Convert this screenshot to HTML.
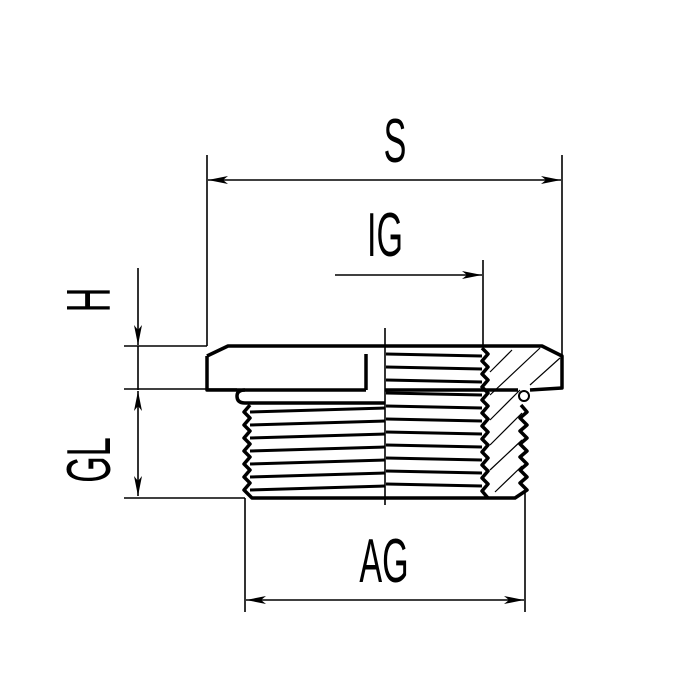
<!DOCTYPE html>
<html><head><meta charset="utf-8"><style>body{margin:0;background:#fff}svg{display:block}</style></head>
<body>
<svg width="700" height="700" viewBox="0 0 700 700" xmlns="http://www.w3.org/2000/svg">
<defs>
<marker id="a" viewBox="0 0 20 8" refX="20" refY="4" markerWidth="20" markerHeight="8" markerUnits="userSpaceOnUse" orient="auto-start-reverse"><path d="M0,0 L20,4 L0,8 L5,4 Z" fill="#000"/></marker>
</defs>
<g stroke="#000" stroke-width="1.6" fill="none">
<line x1="207" y1="155" x2="207" y2="346"/>
<line x1="562" y1="155" x2="562" y2="356"/>
<line x1="208" y1="180" x2="561" y2="180" marker-start="url(#a)" marker-end="url(#a)"/>
<line x1="483" y1="260" x2="483" y2="346"/>
<line x1="335" y1="275" x2="482" y2="275" marker-end="url(#a)"/>
<line x1="138" y1="268" x2="138" y2="345" marker-end="url(#a)"/>
<line x1="138" y1="346" x2="138" y2="390"/>
<line x1="138" y1="391" x2="138" y2="496" marker-start="url(#a)" marker-end="url(#a)"/>
<line x1="124" y1="346" x2="207" y2="346"/>
<line x1="124" y1="389" x2="237" y2="389"/>
<line x1="124" y1="498" x2="245" y2="498"/>
<line x1="245" y1="498" x2="245" y2="612"/>
<line x1="525" y1="490" x2="525" y2="612"/>
<line x1="246" y1="600" x2="524" y2="600" marker-start="url(#a)" marker-end="url(#a)"/>
<line x1="385" y1="328" x2="385" y2="505"/>
</g>
<g stroke="#000" stroke-width="3.5" fill="none" stroke-linejoin="round">
<path d="M207,356 L228,346 L542,346 L562,356 L562,388 L530,390"/>
<path d="M207,356 L207,390 L366,390"/>
<path d="M366,354 L366,390"/>
<path d="M385,390 L518,390"/>
<path d="M245,390 Q237,390 237,396 Q237,403 245,403 L385,403"/>
<path d="M250,405 L244,412 L250,418 L244,425 L250,431 L244,438 L250,444 L244,451 L250,457 L244,464 L250,470 L244,477 L250,483 L244,490 L252,498 L515,498 L527,490 L520,483 L527,477 L520,470 L527,464 L520,457 L527,451 L520,444 L527,438 L520,431 L527,425 L520,418 L527,412 L521,405"/>
<path d="M482,348 L488,354 L482,361 L488,367 L482,374 L488,380 L482,387 L488,393 L482,400 L488,406 L482,413 L488,419 L482,426 L488,432 L482,439 L488,445 L482,452 L488,458 L482,465 L488,471 L482,478 L488,484 L482,491 L488,498"/>
<circle cx="524" cy="396" r="5" stroke-width="2"/>
</g>
<g stroke="#000" stroke-width="3">
<line x1="250" y1="412" x2="385" y2="408"/><line x1="250" y1="425" x2="385" y2="421"/>
<line x1="250" y1="438" x2="385" y2="434"/><line x1="250" y1="451" x2="385" y2="447"/>
<line x1="250" y1="464" x2="385" y2="460"/><line x1="250" y1="477" x2="385" y2="473"/>
<line x1="250" y1="490" x2="385" y2="486"/>
<line x1="386" y1="354" x2="482" y2="356"/><line x1="386" y1="367" x2="482" y2="369"/>
<line x1="386" y1="380" x2="482" y2="382"/><line x1="386" y1="393" x2="482" y2="395"/>
<line x1="386" y1="406" x2="482" y2="408"/><line x1="386" y1="419" x2="482" y2="421"/>
<line x1="386" y1="432" x2="482" y2="434"/><line x1="386" y1="445" x2="482" y2="447"/>
<line x1="386" y1="458" x2="482" y2="460"/><line x1="386" y1="471" x2="482" y2="473"/>
<line x1="386" y1="484" x2="482" y2="486"/>
</g>
<g stroke="#000" stroke-width="1.2">
<line x1="490" y1="372" x2="512" y2="350"/><line x1="490" y1="395" x2="540" y2="348"/>
<line x1="490" y1="420" x2="520" y2="390"/><line x1="530" y1="385" x2="560" y2="358"/>
<line x1="490" y1="445" x2="522" y2="413"/><line x1="490" y1="470" x2="522" y2="440"/>
<line x1="495" y1="492" x2="522" y2="466"/>
</g>
<g font-family="Liberation Sans, sans-serif" font-size="62" fill="#000">
<text transform="translate(395,162) scale(0.55,1)" text-anchor="middle">S</text>
<text transform="translate(385,256) scale(0.55,1)" text-anchor="middle">IG</text>
<text transform="translate(384,582) scale(0.55,1)" text-anchor="middle">AG</text>
<text transform="translate(110,300) rotate(-90) scale(0.55,1)" text-anchor="middle">H</text>
<text transform="translate(110,460) rotate(-90) scale(0.55,1)" text-anchor="middle">GL</text>
</g>
</svg>
</body></html>
